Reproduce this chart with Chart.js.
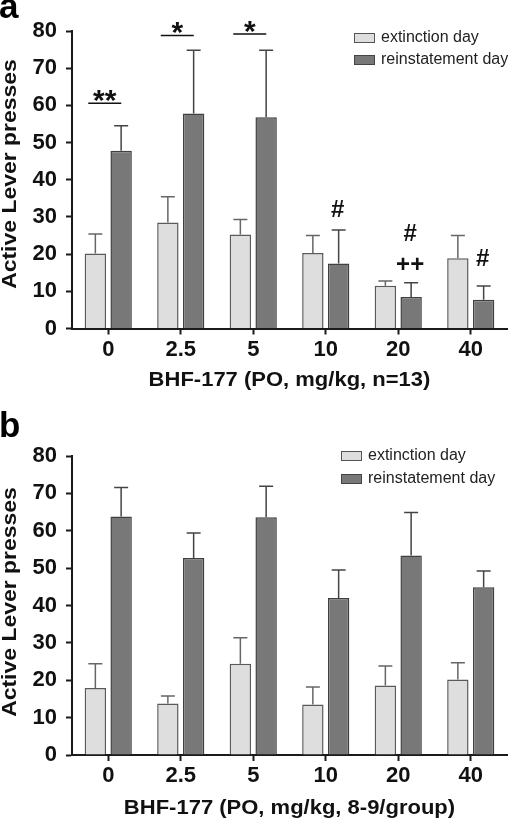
<!DOCTYPE html>
<html>
<head>
<meta charset="utf-8">
<script src="https://cdn.jsdelivr.net/npm/chart.js@4.4.1/dist/chart.umd.min.js"></script>
<style>
    html, body { margin: 0; padding: 0; background: #fff; }
    .panel { position: relative; width: 511px; }
    #panelA { height: 400px; }
    #panelB { height: 422px; }
</style>
</head>
<body>
<div class="panel" id="panelA"><canvas id="chartA"></canvas></div>
<div class="panel" id="panelB"><canvas id="chartB"></canvas></div>
<script>
const doses = ['0', '2.5', '5', '10', '20', '40'];
const yTicks = [0, 10, 20, 30, 40, 50, 60, 70, 80];

// panel a (n=13)
const extinctionA = [20.2, 28.5, 25.3, 20.3, 11.5, 18.9];
const extinctionErrA = [5.2, 6.9, 4.0, 4.7, 1.3, 6.1];
const reinstatementA = [47.8, 57.8, 56.8, 17.5, 8.5, 7.7];
const reinstatementErrA = [6.7, 17.0, 18.0, 9.0, 3.8, 3.7];

// panel b (8-9/group)
const extinctionB = [17.9, 13.8, 24.4, 13.5, 18.6, 20.2];
const extinctionErrB = [6.5, 2.0, 7.0, 4.7, 5.2, 4.5];
const reinstatementB = [63.8, 52.7, 63.6, 42.0, 53.4, 44.9];
const reinstatementErrB = [7.8, 6.7, 8.3, 7.5, 11.5, 4.3];

// significance marks, in data units (dose index, y level)
const bracketsA = [
    { dose: 0, level: 60.6, label: '**' },
    { dose: 1, level: 78.8, label: '*' },
    { dose: 2, level: 79.2, label: '*' }
];
const markersA = [
    { dose: 3, level: 32.4, label: '#' },
    { dose: 4, level: 25.7, label: '#' },
    { dose: 4, level: 17.6, label: '++' },
    { dose: 5, level: 19.2, label: '#' }
];

const FONT = "'Liberation Sans', Arial, sans-serif";
const AXIS = '#1a1a1a';
const LIGHT = '#dedede';
const DARK = '#787878';

const errorBars = {
    id: 'errorBars',
    afterDatasetsDraw(chart) {
        const { ctx } = chart;
        const y = chart.scales.y;
        ctx.save();
        chart.data.datasets.forEach((ds, i) => {
            chart.getDatasetMeta(i).data.forEach((bar, j) => {
                const top = y.getPixelForValue(ds.data[j] + ds.errors[j]);
                ctx.strokeStyle = ds.errorColor;
                ctx.lineWidth = 1.5;
                ctx.beginPath();
                ctx.moveTo(bar.x, bar.y);
                ctx.lineTo(bar.x, top);
                ctx.moveTo(bar.x - 7, top);
                ctx.lineTo(bar.x + 7, top);
                ctx.stroke();
            });
        });
        ctx.restore();
    }
};

// bold titles in the figure are drawn a bit wider than plain Arial
function wideText(ctx, text, x, y, size, sx, angle) {
    ctx.save();
    ctx.translate(x, y);
    if (angle) ctx.rotate(angle);
    ctx.scale(sx, 1);
    ctx.font = `bold ${size}px ${FONT}`;
    ctx.fillStyle = '#111';
    ctx.textAlign = 'center';
    ctx.textBaseline = 'middle';
    ctx.fillText(text, 0, 0);
    ctx.restore();
}

function makeDecor(cfg) {
    return {
        id: 'decor',
        afterDraw(chart) {
            const { ctx, chartArea } = chart;
            const x = chart.scales.x;
            const y = chart.scales.y;
            ctx.save();

            // panel letter
            ctx.font = `bold 35px ${FONT}`;
            ctx.fillStyle = '#000';
            ctx.textAlign = 'left';
            ctx.textBaseline = 'alphabetic';
            ctx.fillText(cfg.letter, -1, cfg.letterBaseline);

            // axis titles
            wideText(ctx, cfg.xTitle, (chartArea.left + chartArea.right) / 2, cfg.xTitleY, 20, 1.1, 0);
            wideText(ctx, 'Active Lever presses', 10, cfg.yTitleY, 20.5, 1.12, -Math.PI / 2);

            // legend
            const rows = [
                { text: 'extinction day', fill: LIGHT, stroke: '#555' },
                { text: 'reinstatement day', fill: DARK, stroke: '#444' }
            ];
            rows.forEach((r, i) => {
                const cy = cfg.legendRows[i];
                ctx.fillStyle = r.fill;
                ctx.strokeStyle = r.stroke;
                ctx.lineWidth = 1;
                ctx.fillRect(cfg.legendX, cy - 5, 21, 10);
                ctx.strokeRect(cfg.legendX + 0.5, cy - 4.5, 20, 9);
                ctx.fillStyle = '#222';
                ctx.font = `16px ${FONT}`;
                ctx.textAlign = 'left';
                ctx.textBaseline = 'middle';
                ctx.fillText(r.text, cfg.legendX + 27, cy);
            });

            // significance brackets
            (cfg.brackets || []).forEach(b => {
                const cx = x.getPixelForValue(b.dose);
                const ly = y.getPixelForValue(b.level);
                ctx.strokeStyle = '#111';
                ctx.lineWidth = 1.5;
                ctx.beginPath();
                ctx.moveTo(cx - 20, ly);
                ctx.lineTo(cx + 13, ly);
                ctx.stroke();
                ctx.fillStyle = '#111';
                ctx.font = `bold 30px ${FONT}`;
                ctx.textAlign = 'center';
                ctx.textBaseline = 'alphabetic';
                ctx.fillText(b.label, cx - 3.5, ly + 7);
            });

            // markers over reinstatement bars
            const darkMeta = chart.getDatasetMeta(1);
            (cfg.markers || []).forEach(m => {
                const bx = darkMeta.data[m.dose].x;
                const my = y.getPixelForValue(m.level);
                ctx.fillStyle = '#111';
                ctx.font = `bold 24px ${FONT}`;
                ctx.textAlign = 'center';
                ctx.textBaseline = 'alphabetic';
                ctx.fillText(m.label, bx - 1, my + 8.5);
            });

            ctx.restore();
        }
    };
}

function buildChart(canvasId, cfg) {
    const ctx = document.getElementById(canvasId).getContext('2d');
    const tickFont = { family: FONT, size: 22, weight: 'bold' };
    return new Chart(ctx, {
        type: 'bar',
        data: {
            labels: doses,
            datasets: [{
                label: 'extinction day',
                data: cfg.extinction,
                errors: cfg.extinctionErr,
                errorColor: '#666',
                backgroundColor: LIGHT,
                borderColor: '#5a5a5a',
                borderWidth: 1.5,
                barPercentage: 0.83,
                categoryPercentage: 0.711
            }, {
                label: 'reinstatement day',
                data: cfg.reinstatement,
                errors: cfg.reinstatementErr,
                errorColor: '#444',
                backgroundColor: DARK,
                borderColor: '#404040',
                borderWidth: 1.5,
                barPercentage: 0.83,
                categoryPercentage: 0.711
            }]
        },
        options: {
            responsive: true,
            maintainAspectRatio: false,
            animation: false,
            layout: { padding: { top: cfg.top, right: 4, left: 0, bottom: 0 } },
            plugins: {
                legend: { display: false },
                tooltip: { enabled: false }
            },
            scales: {
                x: {
                    offset: true,
                    grid: {
                        offset: false,
                        drawOnChartArea: false,
                        tickLength: 6,
                        tickWidth: 2,
                        tickColor: AXIS
                    },
                    border: { color: AXIS, width: 2 },
                    ticks: { font: tickFont, color: '#111', padding: 2, maxRotation: 0 },
                    afterFit: (s) => { s.height = cfg.xAxisHeight; }
                },
                y: {
                    min: 0,
                    max: 80,
                    afterBuildTicks: (s) => { s.ticks = yTicks.map(v => ({ value: v })); },
                    grid: {
                        drawOnChartArea: false,
                        tickLength: 6,
                        tickWidth: 2,
                        tickColor: AXIS
                    },
                    border: { color: AXIS, width: 2 },
                    ticks: { font: tickFont, color: '#111', padding: 9 },
                    afterFit: (s) => { s.width = 72; }
                }
            }
        },
        plugins: [errorBars, makeDecor(cfg)]
    });
}

buildChart('chartA', {
    extinction: extinctionA,
    extinctionErr: extinctionErrA,
    reinstatement: reinstatementA,
    reinstatementErr: reinstatementErrA,
    top: 31,
    xAxisHeight: 71.5,
    letter: 'a',
    letterBaseline: 18,
    xTitle: 'BHF-177 (PO, mg/kg, n=13)',
    xTitleY: 380,
    yTitleY: 174,
    legendX: 354,
    legendRows: [38, 60],
    brackets: bracketsA,
    markers: markersA
});

buildChart('chartB', {
    extinction: extinctionB,
    extinctionErr: extinctionErrB,
    reinstatement: reinstatementB,
    reinstatementErr: reinstatementErrB,
    top: 56,
    xAxisHeight: 67,
    letter: 'b',
    letterBaseline: 37,
    xTitle: 'BHF-177 (PO, mg/kg, 8-9/group)',
    xTitleY: 408,
    yTitleY: 202,
    legendX: 341,
    legendRows: [56, 79]
});
</script>
</body>
</html>
